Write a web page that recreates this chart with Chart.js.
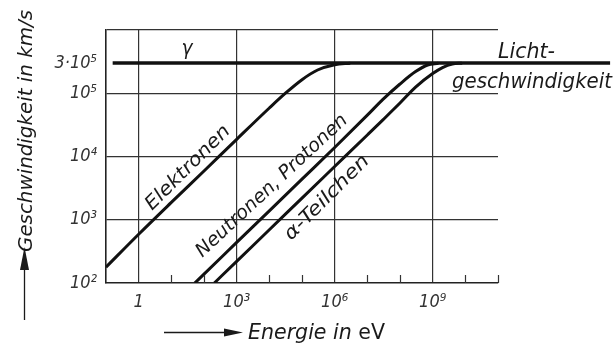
<!DOCTYPE html>
<html><head><meta charset="utf-8">
<script src="https://cdn.jsdelivr.net/npm/chart.js@4"></script>
<style>html,body{margin:0;padding:0;background:#fff;}canvas{display:block;}</style>
</head><body>
<canvas id="c" width="616" height="348"></canvas>
<script>
// ---- data ----
const energyLight = [0.16, 2.7e14];
const speedLight = [3e5, 3e5];
const energyElectrons = [0.1, 1, 10, 100, 1e3, 1e4, 3e4, 1e5, 3e5, 1e6, 3e6];
const speedElectrons = [178, 590, 1880, 5900, 18700, 58500, 98500, 164000, 233000, 283000, 298000];
const energyProtons = [52, 100, 1e3, 1e4, 1e5, 1e6, 1e7, 3e7, 1e8, 3e8, 7e8, 1.5e9];
const speedProtons = [100, 138, 438, 1380, 4380, 13900, 45000, 80000, 140000, 220000, 280000, 298000];
const energyAlpha = [207, 1e3, 1e4, 1e5, 1e6, 1e7, 3e7, 1e8, 3e8, 1e9, 2e9, 4e9, 8e9];
const speedAlpha = [100, 220, 694, 2200, 6940, 21900, 38000, 70000, 125000, 205000, 255000, 290000, 299000];

const xTickValues = [0.1, 1, 10, 100, 1e3, 1e4, 1e5, 1e6, 1e7, 1e8, 1e9, 1e10, 1e11];
const xLabelValues = [1, 1e3, 1e6, 1e9];
const xLabelTexts = ['1', '10³', '10⁶', '10⁹'];
const xGridValues = [0.1, 1, 1e3, 1e6, 1e9];
const yTickValues = [1e2, 1e3, 1e4, 1e5, 3e5, 1e6];
const yTickTexts = ['10²', '10³', '10⁴', '10⁵', '3·10⁵', ''];
const yGridValues = [1e3, 1e4, 1e5, 1e6];

const FONT = "'DejaVu Sans Condensed','Liberation Sans Narrow','DejaVu Sans',sans-serif";
const INK = '#1a1a1a';

function pts(xs, ys) { return xs.map((x, i) => ({x: x, y: ys[i]})); }

function fitText(ctx, text, x, y, angle, size, width, italic, align, baseline) {
  ctx.save();
  ctx.translate(x, y);
  ctx.rotate(angle * Math.PI / 180);
  ctx.font = (italic ? 'italic ' : '') + size + 'px ' + FONT;
  const w = ctx.measureText(text).width;
  ctx.scale(width / w, 1);
  ctx.textAlign = align || 'center';
  ctx.textBaseline = baseline || 'middle';
  ctx.fillStyle = INK;
  ctx.fillText(text, 0, 0);
  ctx.restore();
}

const decor = {
  id: 'decor',
  afterDraw(chart) {
    const ctx = chart.ctx;
    const xs = chart.scales.x;
    const bottom = chart.chartArea.bottom;
    // inward minor ticks on the energy axis
    ctx.save();
    ctx.strokeStyle = '#333';
    ctx.lineWidth = 1.2;
    xTickValues.forEach(v => {
      if (xGridValues.includes(v)) return;
      const px = Math.round(xs.getPixelForValue(v)) + 0.5;
      ctx.beginPath();
      ctx.moveTo(px, bottom);
      ctx.lineTo(px, bottom - 8);
      ctx.stroke();
    });
    ctx.restore();

    // curve labels
    fitText(ctx, 'Elektronen', 188, 168, -45, 19, 112, true);
    fitText(ctx, 'Neutronen, Protonen', 272, 186, -43, 19, 200, true);
    fitText(ctx, 'α-Teilchen', 327, 198, -45, 19, 112, true);
    fitText(ctx, 'γ', 187, 49, 0, 22, 11, true);
    fitText(ctx, 'Licht-', 498, 58, 0, 21, 57, true, 'left', 'alphabetic');
    fitText(ctx, 'geschwindigkeit', 452, 88, 0, 21, 160, true, 'left', 'alphabetic');

    // y axis title with arrow
    fitText(ctx, 'Geschwindigkeit in km/s', 27, 252, -90, 20, 242, true, 'left', 'middle');
    ctx.save();
    ctx.strokeStyle = INK; ctx.fillStyle = INK; ctx.lineWidth = 1.3;
    ctx.beginPath(); ctx.moveTo(24.5, 320); ctx.lineTo(24.5, 262); ctx.stroke();
    ctx.beginPath(); ctx.moveTo(24.5, 247); ctx.lineTo(20, 270); ctx.lineTo(29, 270); ctx.closePath(); ctx.fill();
    // x axis title arrow
    ctx.beginPath(); ctx.moveTo(164, 332.5); ctx.lineTo(228, 332.5); ctx.stroke();
    ctx.beginPath(); ctx.moveTo(243, 332.5); ctx.lineTo(224, 328.5); ctx.lineTo(224, 336.5); ctx.closePath(); ctx.fill();
    ctx.restore();

    // x axis title: italic part + upright unit
    ctx.save();
    const size = 22;
    ctx.font = 'italic ' + size + 'px ' + FONT;
    const w1 = ctx.measureText('Energie in ').width;
    ctx.font = size + 'px ' + FONT;
    const w2 = ctx.measureText('eV').width;
    const k = 137 / (w1 + w2);
    ctx.translate(248, 339);
    ctx.scale(k, 1);
    ctx.fillStyle = INK;
    ctx.textBaseline = 'alphabetic';
    ctx.textAlign = 'left';
    ctx.font = 'italic ' + size + 'px ' + FONT;
    ctx.fillText('Energie in ', 0, 0);
    ctx.font = size + 'px ' + FONT;
    ctx.fillText('eV', w1, 0);
    ctx.restore();
  }
};

const lineStyle = {borderColor: '#111', borderWidth: 3, pointRadius: 0, fill: false, cubicInterpolationMode: 'monotone'};

new Chart(document.getElementById('c').getContext('2d'), {
  type: 'line',
  data: {
    datasets: [
      Object.assign({}, lineStyle, {label: 'Lichtgeschwindigkeit', data: pts(energyLight, speedLight), borderWidth: 3.6, clip: false}),
      Object.assign({}, lineStyle, {label: 'Elektronen', data: pts(energyElectrons, speedElectrons)}),
      Object.assign({}, lineStyle, {label: 'Neutronen, Protonen', data: pts(energyProtons, speedProtons)}),
      Object.assign({}, lineStyle, {label: 'α-Teilchen', data: pts(energyAlpha, speedAlpha)})
    ]
  },
  options: {
    responsive: false,
    animation: false,
    devicePixelRatio: 1,
    layout: {padding: {top: 30, right: 118, left: 0, bottom: 0}},
    plugins: {legend: {display: false}, tooltip: {enabled: false}},
    scales: {
      x: {
        type: 'logarithmic', min: 0.1, max: 1e11,
        afterBuildTicks: s => { s.ticks = xTickValues.map(v => ({value: v})); },
        afterFit: s => { s.height = 65; },
        grid: {
          color: c => (c.tick && xGridValues.includes(c.tick.value)) ? '#333' : 'rgba(0,0,0,0)',
          lineWidth: 1.2, drawTicks: false
        },
        border: {color: '#222', width: 1.5},
        ticks: {
          autoSkip: false, maxRotation: 0, minRotation: 0, padding: 9, color: '#333',
          font: {family: FONT, size: 18, style: 'italic'},
          callback: v => { const i = xLabelValues.indexOf(v); return i >= 0 ? xLabelTexts[i] : ''; }
        }
      },
      y: {
        type: 'logarithmic', min: 1e2, max: 1e6,
        afterBuildTicks: s => { s.ticks = yTickValues.map(v => ({value: v})); },
        afterFit: s => { s.width = 106; },
        grid: {
          color: c => (c.tick && yGridValues.includes(c.tick.value)) ? '#333' : 'rgba(0,0,0,0)',
          lineWidth: 1.2, drawTicks: false
        },
        border: {color: '#222', width: 1.5},
        ticks: {
          autoSkip: false, padding: 9, color: '#333',
          font: {family: FONT, size: 18, style: 'italic'},
          callback: v => { const i = yTickValues.indexOf(v); return i >= 0 ? yTickTexts[i] : ''; }
        }
      }
    }
  },
  plugins: [decor]
});
</script>
</body></html>
